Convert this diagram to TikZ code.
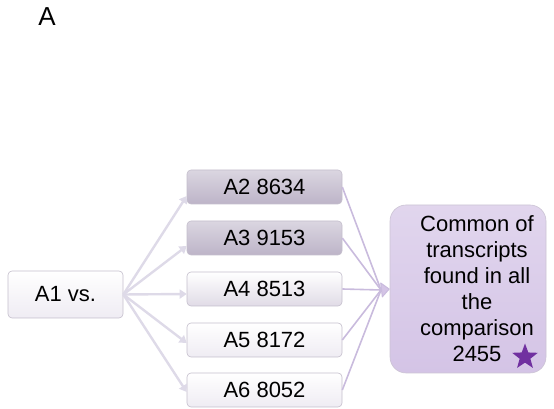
\documentclass[tikz,border=0pt]{standalone}
\usepackage{fontspec}
\setmainfont{Liberation Sans}
\usetikzlibrary{positioning,arrows.meta,shapes.geometric,calc}
\definecolor{fanc}{HTML}{DEDAE8}
\definecolor{mergec}{HTML}{C9BBDD}
\definecolor{boxline}{HTML}{C4BECC}
\definecolor{darkbox}{HTML}{BDB4C8}
\definecolor{lightbox}{HTML}{EFECF3}
\definecolor{commonc}{HTML}{D4C4E6}
\definecolor{starc}{HTML}{7030A0}

\begin{document}
\begin{tikzpicture}[
  x=1pt, y=1pt,
  box/.style={rounded corners=4pt, draw=boxline, line width=0.6pt,
              minimum width=155pt, minimum height=34pt, inner sep=0pt,
              font=\fontsize{22}{25}\selectfont},
  darkb/.style={box, top color=darkbox!55, bottom color=darkbox},
  lightb/.style={box, top color=white, bottom color=lightbox},
  fan/.style={draw=fanc, line width=2.4pt, -{Triangle[width=9pt,length=7pt]}},
  merge/.style={draw=mergec, line width=1.6pt},
  >=Stealth
]
\useasboundingbox (0,0) rectangle (554,409);
\node[font=\fontsize{26}{28}\selectfont] (lbl) at (47,392) {A};

\node[lightb, minimum width=115pt, minimum height=47pt] (A1) at (65.5,114.5) {A1 vs.};

% compared samples
\node[darkb]  (A2) at (264.5,222) {A2 8634};
\node[darkb]  (A3) at (264.5,171) {A3 9153};
\node[lightb, bottom color=lightbox!70!darkbox] (A4) at (264.5,120) {A4 8513};
\node[lightb] (A5) at (264.5,69) {A5 8172};
\node[lightb] (A6) at (264.5,19) {A6 8052};

% common transcripts
\node[rounded corners=16pt, draw=commonc!80!black!60, line width=0.6pt,
      top color=commonc!70, bottom color=commonc,
      minimum width=156pt, minimum height=168pt] (common) at (468,120) {};
\node[align=center, font=\fontsize{22}{26}\selectfont] (ctext) at ([xshift=9pt]common.center)
  {Common of\\transcripts\\found in all\\the\\comparison\\2455};
\node[star, star points=5, star point ratio=2.4, fill=starc, inner sep=0pt,
      minimum size=27pt] (mark) at (525,52) {};

\coordinate (hub) at (381,119);
\foreach \n/\dy in {A2/-9,A3/-8,A4/-5,A5/-3,A6/-2}{
  \draw[fan] (A1.east) -- ([yshift=\dy pt]\n.west);
  \draw[merge] (\n.east) -- (hub);}
\draw[merge, line width=1pt, -{Triangle[width=16pt,length=9pt,round,fill=commonc]}]
  (hub) -- (common.west);
\end{tikzpicture}
\end{document}
